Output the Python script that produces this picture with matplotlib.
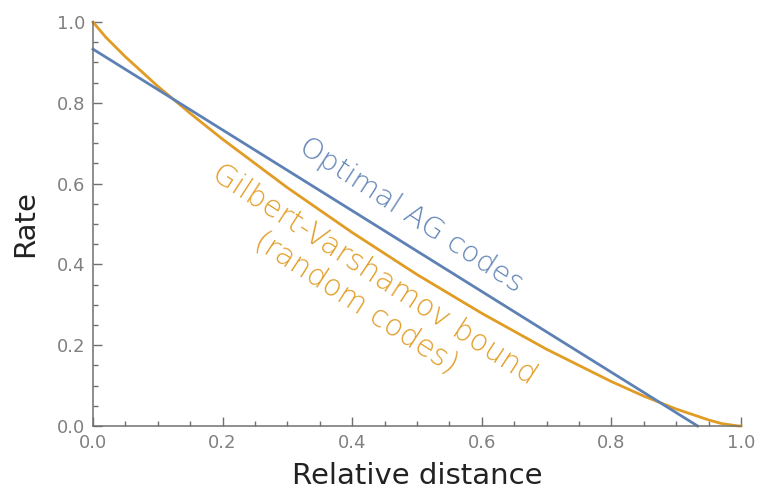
import numpy as np
import matplotlib
matplotlib.use('Agg')
import matplotlib.pyplot as plt
from matplotlib.ticker import MultipleLocator, FormatStrFormatter

plt.rcParams['font.family'] = ['DejaVu Sans']

# Optimal AG codes (straight line)
ag_x = [0.0, 0.933]
ag_y = [0.933, 0.0]

# Gilbert-Varshamov bound, points
gv_x = [0.0, 0.02, 0.05, 0.10, 0.15, 0.20, 0.30, 0.40, 0.50, 0.60, 0.70,
        0.80, 0.85, 0.90, 0.95, 0.97, 0.996, 1.0]
gv_y = [1.0, 0.962, 0.914, 0.841, 0.774, 0.710, 0.590, 0.479, 0.375, 0.279,
        0.190, 0.110, 0.074, 0.042, 0.015, 0.006, 0.0, 0.0]

blue = '#5E81B5'
orange = '#E19C24'
grey = '#808080'

fig = plt.figure(figsize=(7.6, 4.91), dpi=100)
ax = fig.add_axes([0.1224, 0.1324, 0.8526, 0.8226])

ax.plot(gv_x, gv_y, color=orange, lw=2, clip_on=False)
ax.plot(ag_x, ag_y, color=blue, lw=2, clip_on=False)

ax.set_xlim(0, 1)
ax.set_ylim(0, 1)
for s in ['top', 'right']:
    ax.spines[s].set_visible(False)
for s in ['left', 'bottom']:
    ax.spines[s].set_color('#707070')
    ax.spines[s].set_linewidth(1.1)

ax.xaxis.set_major_locator(MultipleLocator(0.2))
ax.yaxis.set_major_locator(MultipleLocator(0.2))
ax.xaxis.set_minor_locator(MultipleLocator(0.05))
ax.yaxis.set_minor_locator(MultipleLocator(0.05))
ax.xaxis.set_major_formatter(FormatStrFormatter('%.1f'))
ax.yaxis.set_major_formatter(FormatStrFormatter('%.1f'))
ax.tick_params(which='major', direction='in', length=6.5, width=1, color='#707070',
               labelcolor=grey, labelsize=13)
ax.tick_params(axis='x', which='major', pad=6)
ax.tick_params(axis='y', which='major', pad=5.5)
ax.tick_params(which='minor', direction='in', length=3.5, width=1, color='#707070')

ax.set_xlabel('Relative distance', fontsize=21, color='#222222', labelpad=7)
ax.set_ylabel('Rate', fontsize=21, color='#222222', labelpad=13)

ax.text(0.491, 0.522, 'Optimal AG codes', color=blue, fontsize=21,
        fontweight='light', rotation=-33, ha='center', va='center',
        rotation_mode='anchor')
ax.text(0.420, 0.340, 'Gilbert-Varshamov bound\n(random codes)', color=orange,
        fontsize=21.5, fontweight='light', rotation=-33, ha='center',
        va='center', rotation_mode='anchor', linespacing=1.25)

fig.savefig('out.png', dpi=100)
